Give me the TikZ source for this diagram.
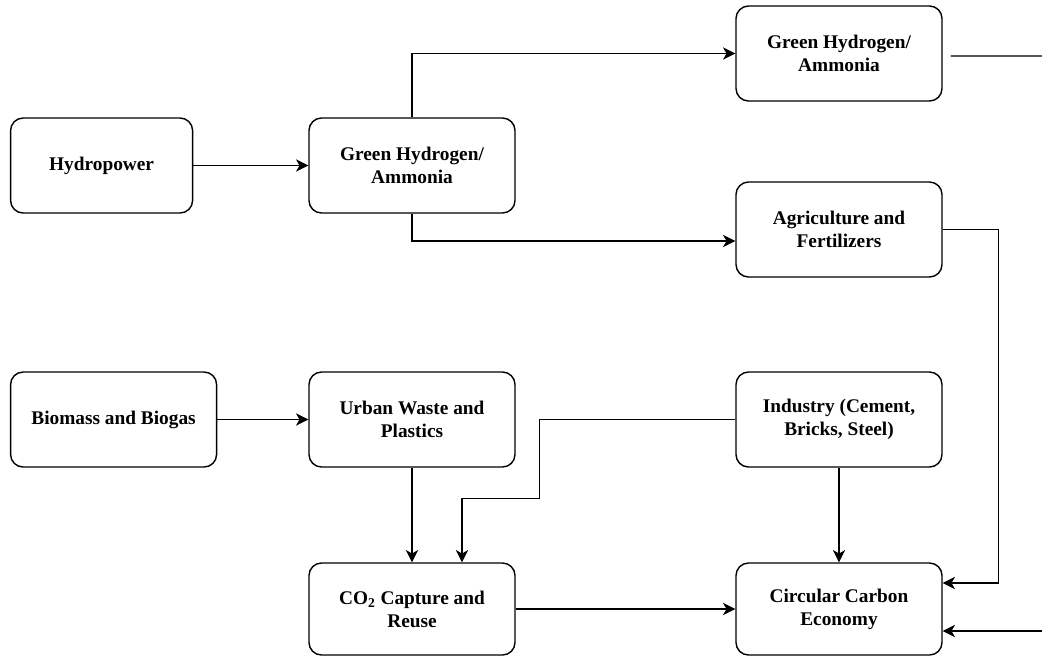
\documentclass[tikz,border=0pt]{standalone}
\usepackage{fontspec}
\setmainfont{Liberation Serif}
\usepackage{tikz}
\usetikzlibrary{arrows.meta,positioning,calc}
\tikzset{
  flow box/.style={
    rectangle,
    rounded corners=0.25cm,
    minimum height=1.9cm,
    minimum width=4.12cm,
    line width=0.8pt,
    draw=black,
    fill=white,
    align=center,
    font=\fontsize{11}{13}\selectfont\bfseries,
    inner sep=3pt,
  },
  flow arrow/.style={-{Stealth[length=7pt,width=7pt,inset=2pt]}, line width=0.7pt},
  flow line/.style={line width=0.7pt},
}
\begin{document}
\begin{tikzpicture}
  \useasboundingbox (0,0) rectangle (20.84,-13.12);
  \node[flow box] (ghmid) at (8.24,-3.31) {Green Hydrogen/\\Ammonia};
  \node[flow box,minimum width=3.64cm,left=2.3cm of ghmid] (hydro) {Hydropower};
  \node[flow box] (ghtop) at (16.78,-1.07) {Green Hydrogen/\\Ammonia};
  \node[flow box] (agri) at (16.78,-4.59) {Agriculture and\\Fertilizers};
  \node[flow box] (urban) at (8.24,-8.39) {Urban Waste and\\Plastics};
  \node[flow box,left=1.82cm of urban] (biomass) {Biomass and Biogas};
  \node[flow box] (industry) at (16.78,-8.39) {Industry (Cement,\\Bricks, Steel)};
  \node[flow box,minimum height=1.84cm] (co2) at (8.24,-12.18) {CO\textsubscript{2} Capture and\\Reuse};
  \node[flow box,minimum height=1.84cm] (cce) at (16.78,-12.18) {Circular Carbon\\Economy};
  \coordinate (exit) at (20.84,-1.12);
  \coordinate (entry) at (20.84,-12.62);

  \draw[flow arrow] (hydro) -- (ghmid);
  \draw[flow arrow] (ghmid.north) |- (ghtop.west);
  \draw[flow arrow] (ghmid.south) |- ($(agri.west)+(0,-0.23)$);
  \draw[flow line] ($(ghtop.east)+(0.16,-0.05)$) -- (exit);
  \draw[flow arrow] (agri.east) -- ++(1.12,0) |- ($(cce.east)+(0,0.52)$);
  \draw[flow arrow] (entry) -- (entry -| cce.east);
  \draw[flow arrow] (biomass) -- (urban);
  \draw[flow arrow] (urban) -- (co2);
  \draw[flow arrow] (industry.west) -- ++(-3.92,0) |- ($(co2.north)+(1,1.28)$) -- ($(co2.north)+(1,0)$);
  \draw[flow arrow] (industry) -- (cce);
  \draw[flow arrow] (co2) -- (cce);
\end{tikzpicture}
\end{document}
